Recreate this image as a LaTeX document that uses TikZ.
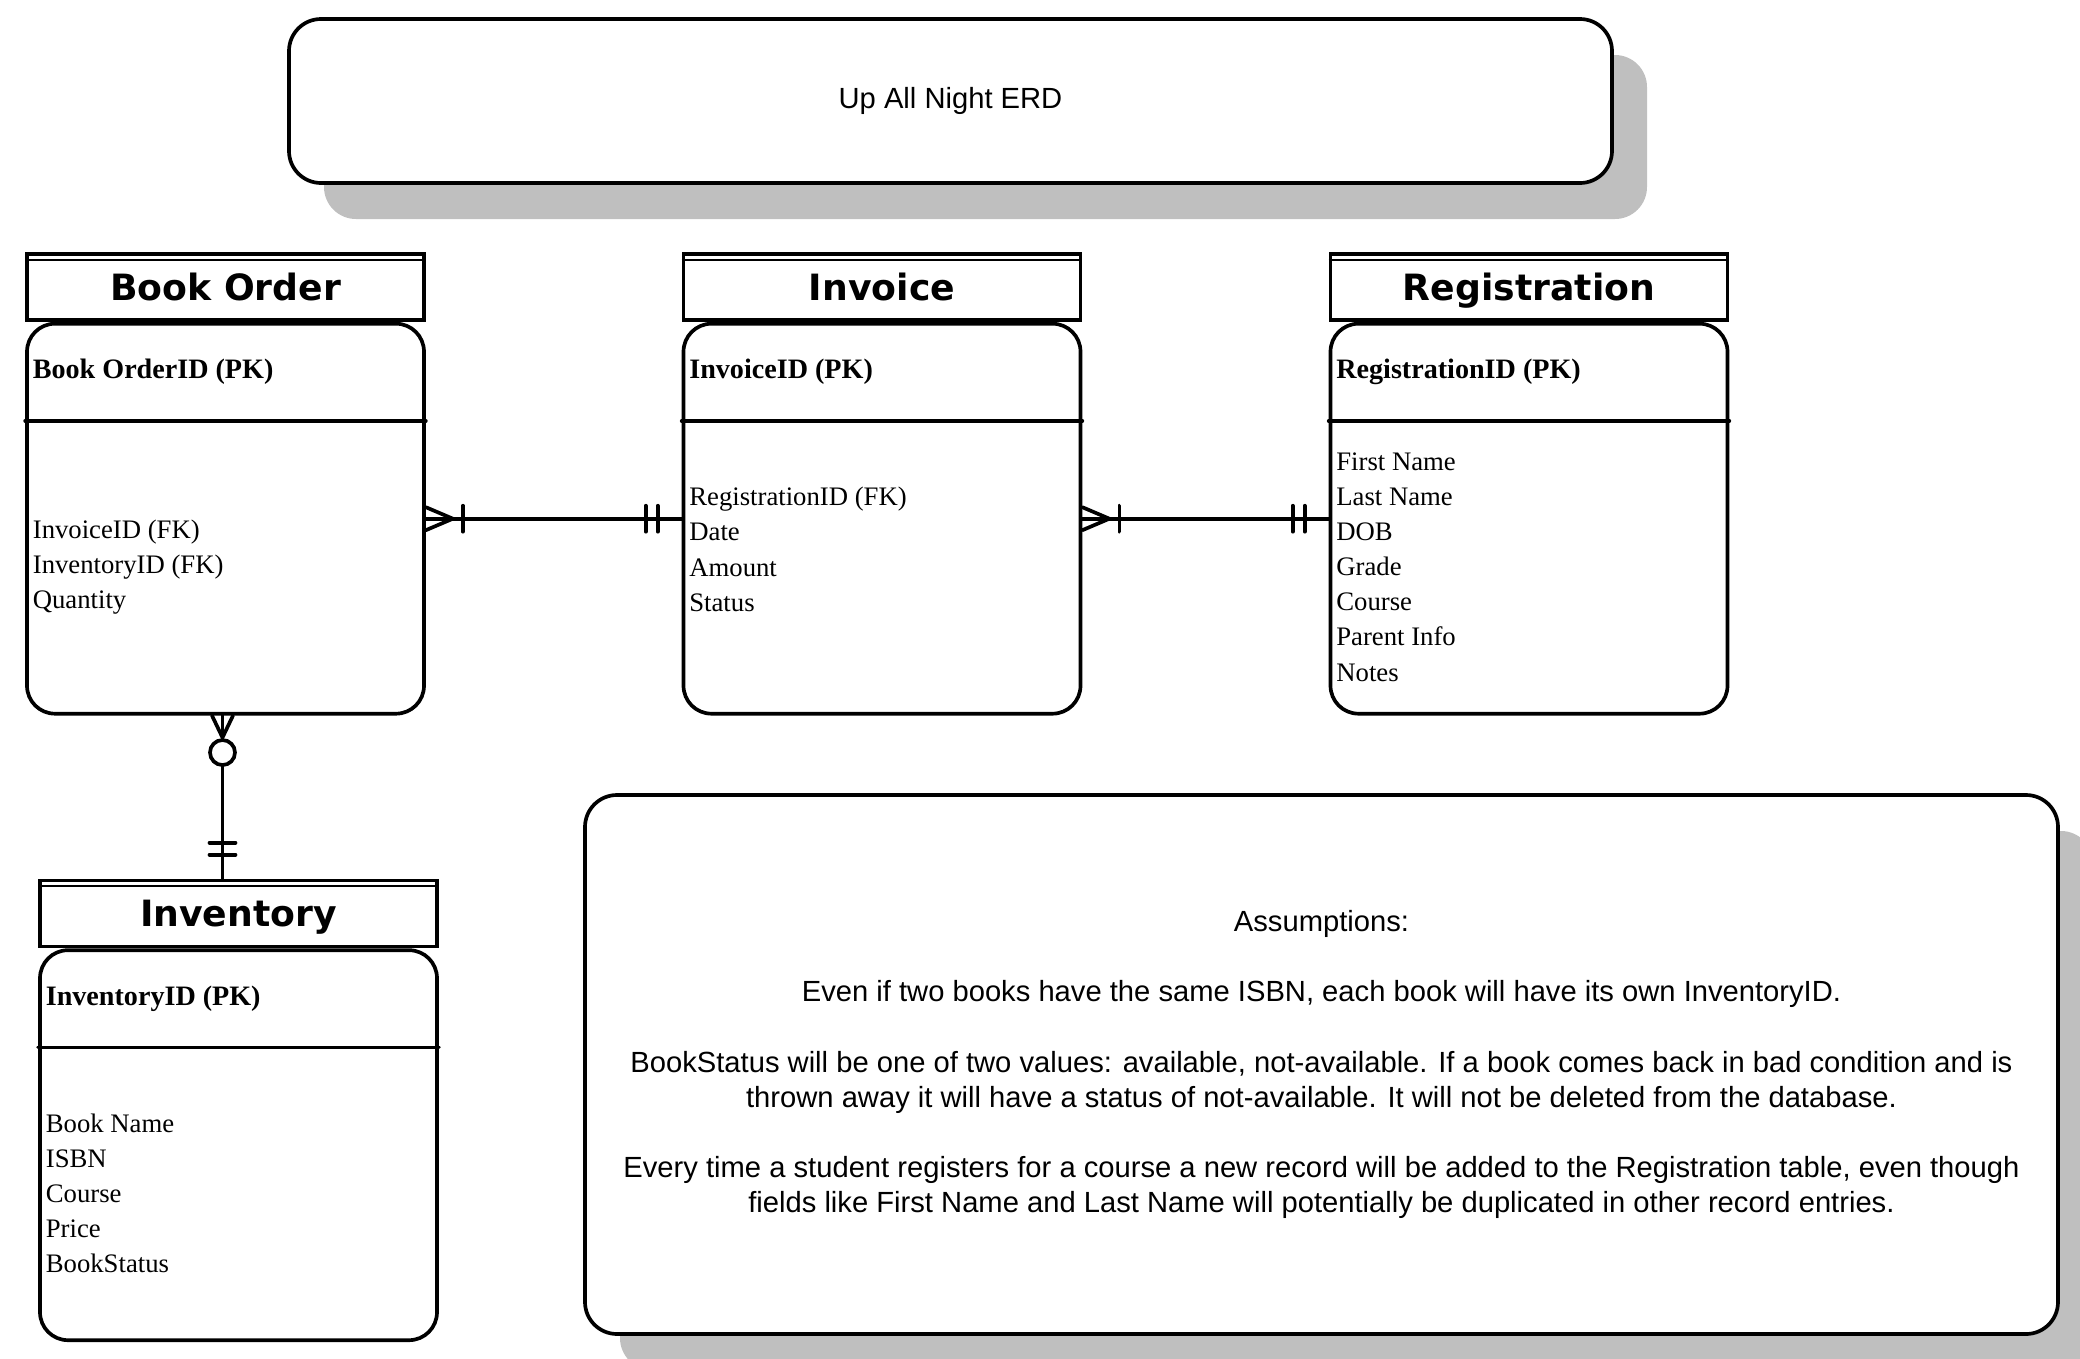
\documentclass[tikz,border=0pt]{standalone}
\usepackage{fontspec}
\setmainfont{Liberation Serif}
\setsansfont{Liberation Sans}
\newfontfamily\erdheadfont{DejaVu Sans}
\usetikzlibrary{positioning,shadows}

\tikzset{
    erd line/.style={line width=1.05pt, line cap=round},
    erd head/.style={draw, line width=1.05pt, inner sep=0pt,
                     minimum width=3.97cm, minimum height=0.66cm,
                     text height=0.76em, text depth=0pt,
                     font=\erdheadfont\bfseries\fontsize{10.3}{12}\selectfont},
    erd body/.style={draw, line width=1.05pt, inner sep=0pt,
                     rounded corners=0.28cm, minimum width=3.97cm,
                     minimum height=3.9cm},
    erd pk/.style={anchor=west, inner sep=0pt,
                   font=\rmfamily\bfseries\fontsize{8}{10}\selectfont},
    erd attr/.style={anchor=west, inner sep=0pt, align=left,
                     font=\rmfamily\fontsize{7.6}{10}\selectfont},
    erd box/.style={draw, line width=1.05pt, rounded corners=0.32cm,
                    fill=white, align=center,
                    font=\sffamily\fontsize{8.3}{10}\selectfont,
                    drop shadow={shadow xshift=0.35cm, shadow yshift=-0.36cm,
                                 fill=black!25, opacity=1}},
    erd one many/.pic={
        \draw[erd line] (0,0.115) -- (0.27,0) -- (0,-0.115);
        \draw[erd line] (0.37,0.13) -- (0.37,-0.13);
    },
    erd one only/.pic={
        \draw[erd line] (0.24,0.13) -- (0.24,-0.13);
        \draw[erd line] (0.36,0.13) -- (0.36,-0.13);
    },
    erd zero many/.pic={
        \draw[erd line] (0,0.105) -- (0.22,0) -- (0,-0.105);
        \draw[erd line, fill=white] (0.37,0) circle (0.125);
    },
}
% second line on top of a table header, and line under the primary key
\newcommand{\erdtop}[1]{%
    \draw[line width=0.6pt] ([yshift=-0.075cm]#1.north west)
        -- ([yshift=-0.075cm]#1.north east);}
\newcommand{\erdsep}[1]{%
    \draw[erd line] ([yshift=-0.99cm]#1.north west)
        -- ([yshift=-0.99cm]#1.north east);}

\begin{document}
\begin{tikzpicture}
    \useasboundingbox (0,0) rectangle (20.8,-13.59);
    % Title
    \node[erd box, minimum width=13.23cm, minimum height=1.64cm]
          (title) at (9.505,-1.01) {Up All Night ERD};
    % Book Order
    \node[erd head] (order-head) at (2.255,-2.87) {Book Order};
    \erdtop{order-head}
    \node[erd body, below=0pt of order-head] (order-body) {};
    \erdsep{order-body}
    \node[erd pk] (order-pk) at ([xshift=0.07cm, yshift=-0.5cm]order-body.north west)
          {Book OrderID (PK)};
    \node[erd attr] (order-attr) at ([xshift=0.07cm, yshift=-2.45cm]order-body.north west)
          {InvoiceID (FK)\\InventoryID (FK)\\Quantity};
    % Invoice
    \node[erd head] (invoice-head) at (8.82,-2.87) {Invoice};
    \erdtop{invoice-head}
    \node[erd body, below=0pt of invoice-head] (invoice-body) {};
    \erdsep{invoice-body}
    \node[erd pk] (invoice-pk) at ([xshift=0.07cm, yshift=-0.5cm]invoice-body.north west)
          {InvoiceID (PK)};
    \node[erd attr] (invoice-attr) at ([xshift=0.07cm, yshift=-2.275cm]invoice-body.north west)
          {RegistrationID (FK)\\Date\\Amount\\Status};
    % Registration
    \node[erd head] (reg-head) at (15.29,-2.87) {Registration};
    \erdtop{reg-head}
    \node[erd body, below=0pt of reg-head] (reg-body) {};
    \erdsep{reg-body}
    \node[erd pk] (reg-pk) at ([xshift=0.07cm, yshift=-0.5cm]reg-body.north west)
          {RegistrationID (PK)};
    \node[erd attr] (reg-attr) at ([xshift=0.07cm, yshift=-2.45cm]reg-body.north west)
          {First Name\\Last Name\\DOB\\Grade\\Course\\Parent Info\\Notes};
    % Inventory
    \node[erd head] (inventory-head) at (2.385,-9.135) {Inventory};
    \erdtop{inventory-head}
    \node[erd body, below=0pt of inventory-head] (inventory-body) {};
    \erdsep{inventory-body}
    \node[erd pk] (inventory-pk) at ([xshift=0.07cm, yshift=-0.5cm]inventory-body.north west)
          {InventoryID (PK)};
    \node[erd attr] (inventory-attr) at ([xshift=0.07cm, yshift=-2.45cm]inventory-body.north west)
          {Book Name\\ISBN\\Course\\Price\\BookStatus};
    % Relationships
    \draw[erd line] (order-body.east) -- (invoice-body.west);
    \pic at (order-body.east) {erd one many};
    \pic[rotate=180] at (invoice-body.west) {erd one only};
    \draw[erd line] (invoice-body.east) -- (reg-body.west);
    \pic at (invoice-body.east) {erd one many};
    \pic[rotate=180] at (reg-body.west) {erd one only};
    \coordinate (order-foot) at ([xshift=-0.03cm]order-body.south);
    \coordinate (inventory-top) at (order-foot |- inventory-head.north);
    \draw[erd line] (order-foot) -- (inventory-top);
    \pic[rotate=-90] at (order-foot) {erd zero many};
    \pic[rotate=90] at (inventory-top) {erd one only};
    % Assumptions
    \node[erd box, minimum width=14.73cm, minimum height=5.39cm]
          (notes) at (13.215,-10.645)
          {Assumptions:\\[10pt]
           Even if two books have the same ISBN, each book will have its own InventoryID.\\[10pt]
           BookStatus will be one of two values: available, not-available. If a book comes back in bad condition and is\\
           thrown away it will have a status of not-available. It will not be deleted from the database.\\[10pt]
           Every time a student registers for a course a new record will be added to the Registration table, even though\\
           fields like First Name and Last Name will potentially be duplicated in other record entries.};
\end{tikzpicture}
\end{document}
